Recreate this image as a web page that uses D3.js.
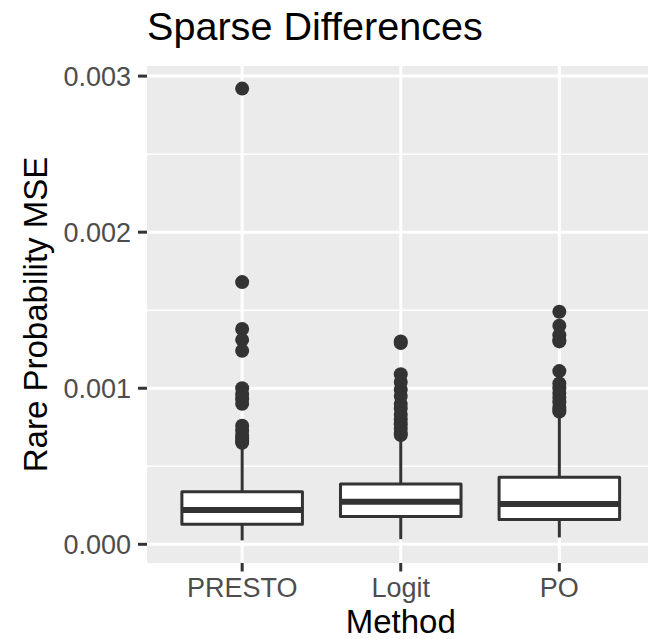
<!DOCTYPE html>
<html>
<head>
<meta charset="utf-8">
<script src="https://cdn.jsdelivr.net/npm/d3@7"></script>
<style>
  html, body { margin: 0; padding: 0; background: #ffffff; }
  svg { display: block; }
  text { font-family: "Liberation Sans", Arial, Helvetica, sans-serif; }
</style>
</head>
<body>
<svg id="chart" width="648" height="639"></svg>
<script>
// ---- data ----
const categories = ["PRESTO", "Logit", "PO"];
const lowerWhisker = [0.000025, 0.000033, 0.000044];
const q1 = [0.000128, 0.000178, 0.000159];
const median = [0.000220, 0.000272, 0.000259];
const q3 = [0.000336, 0.000387, 0.000430];
const upperWhisker = [0.00062, 0.00068, 0.00082];
const outliersPRESTO = [0.00292, 0.00168, 0.00138, 0.00131, 0.00124, 0.00100, 0.00096, 0.00093, 0.00090,
                        0.00076, 0.00073, 0.00070, 0.00068, 0.00066, 0.00065];
const outliersLogit = [0.00130, 0.00129, 0.00109, 0.00104, 0.00099, 0.00095, 0.00090, 0.00087, 0.00083,
                       0.00080, 0.00077, 0.00074, 0.00071, 0.00070];
const outliersPO = [0.00149, 0.00140, 0.00134, 0.00131, 0.00130, 0.00111, 0.00103, 0.00100, 0.00097,
                    0.00094, 0.00091, 0.00088, 0.00086, 0.00085];
const yTicks = [0, 0.001, 0.002, 0.003];
const yTickLabels = ["0.000", "0.001", "0.002", "0.003"];
const yMinorTicks = [0.0005, 0.0015, 0.0025];
const titleText = "Sparse Differences";
const xTitle = "Method";
const yTitle = "Rare Probability MSE";

const outliers = [outliersPRESTO, outliersLogit, outliersPO];
const stats = categories.map((c, i) => ({
  cat: c, lo: lowerWhisker[i], q1: q1[i], med: median[i], q3: q3[i], hi: upperWhisker[i], out: outliers[i]
}));

// ---- layout ----
const panel = { left: 147, right: 654.5, top: 66, bottom: 563 };
const svg = d3.select("#chart");

const allVals = [].concat(lowerWhisker, upperWhisker, outliersPRESTO, outliersLogit, outliersPO);
const vmin = d3.min(allVals), vmax = d3.max(allVals);
const pad = (vmax - vmin) * 0.05;

const x = d3.scalePoint().domain(categories).range([panel.left, panel.right]).padding(0.6);
const y = d3.scaleLinear().domain([vmin - pad, vmax + pad]).range([panel.bottom, panel.top]);
const boxHalf = x.step() * 0.38;

svg.append("rect").attr("width", 648).attr("height", 639).attr("fill", "#ffffff");

// panel background
svg.append("rect")
  .attr("x", panel.left).attr("y", panel.top)
  .attr("width", panel.right - panel.left).attr("height", panel.bottom - panel.top)
  .attr("fill", "#EBEBEB");

// grid
const grid = svg.append("g");
grid.selectAll(".minor").data(yMinorTicks).join("line")
  .attr("x1", panel.left).attr("x2", panel.right)
  .attr("y1", d => y(d)).attr("y2", d => y(d))
  .attr("stroke", "#ffffff").attr("stroke-width", 1.5);
grid.selectAll(".majorY").data(yTicks).join("line")
  .attr("x1", panel.left).attr("x2", panel.right)
  .attr("y1", d => y(d)).attr("y2", d => y(d))
  .attr("stroke", "#ffffff").attr("stroke-width", 3);
grid.selectAll(".majorX").data(categories).join("line")
  .attr("x1", d => x(d)).attr("x2", d => x(d))
  .attr("y1", panel.top).attr("y2", panel.bottom)
  .attr("stroke", "#ffffff").attr("stroke-width", 3);

// boxes
const dark = "#333333";
const g = svg.append("g");
const box = g.selectAll(".box").data(stats).join("g");
box.append("line")
  .attr("x1", d => x(d.cat)).attr("x2", d => x(d.cat))
  .attr("y1", d => y(d.q3)).attr("y2", d => y(d.hi))
  .attr("stroke", dark).attr("stroke-width", 3);
box.append("line")
  .attr("x1", d => x(d.cat)).attr("x2", d => x(d.cat))
  .attr("y1", d => y(d.q1)).attr("y2", d => y(d.lo))
  .attr("stroke", dark).attr("stroke-width", 3);
box.append("rect")
  .attr("x", d => x(d.cat) - boxHalf).attr("width", boxHalf * 2)
  .attr("y", d => y(d.q3)).attr("height", d => y(d.q1) - y(d.q3))
  .attr("fill", "#ffffff").attr("stroke", dark).attr("stroke-width", 3)
  .attr("stroke-linejoin", "round");
box.append("line")
  .attr("x1", d => x(d.cat) - boxHalf).attr("x2", d => x(d.cat) + boxHalf)
  .attr("y1", d => y(d.med)).attr("y2", d => y(d.med))
  .attr("stroke", dark).attr("stroke-width", 6);
box.selectAll("circle").data(d => d.out.map(v => ({cat: d.cat, v}))).join("circle")
  .attr("cx", d => x(d.cat)).attr("cy", d => y(d.v)).attr("r", 7)
  .attr("fill", dark);

// axes
const tickCol = "#333333", labCol = "#4D4D4D";
const yAxis = svg.append("g");
yAxis.selectAll("line").data(yTicks).join("line")
  .attr("x1", panel.left - 9).attr("x2", panel.left)
  .attr("y1", d => y(d)).attr("y2", d => y(d))
  .attr("stroke", tickCol).attr("stroke-width", 3);
yAxis.selectAll("text").data(yTicks).join("text")
  .attr("x", panel.left - 16).attr("y", d => y(d))
  .attr("dy", "0.36em").attr("text-anchor", "end")
  .attr("font-size", 27).attr("fill", labCol)
  .text((d, i) => yTickLabels[i]);

const xAxis = svg.append("g");
xAxis.selectAll("line").data(categories).join("line")
  .attr("x1", d => x(d)).attr("x2", d => x(d))
  .attr("y1", panel.bottom).attr("y2", panel.bottom + 8.5)
  .attr("stroke", tickCol).attr("stroke-width", 3);
xAxis.selectAll("text").data(categories).join("text")
  .attr("x", d => x(d)).attr("y", 597)
  .attr("text-anchor", "middle")
  .attr("font-size", 27).attr("fill", labCol)
  .text(d => d);

// titles
svg.append("text")
  .attr("x", (panel.left + panel.right) / 2).attr("y", 633)
  .attr("text-anchor", "middle").attr("font-size", 33).attr("fill", "#000")
  .text(xTitle);
svg.append("text")
  .attr("transform", `translate(47,${(panel.top + panel.bottom) / 2}) rotate(-90)`)
  .attr("text-anchor", "middle").attr("font-size", 33).attr("fill", "#000")
  .text(yTitle);
svg.append("text")
  .attr("x", panel.left).attr("y", 40)
  .attr("font-size", 39.6).attr("fill", "#000")
  .text(titleText);
</script>
</body>
</html>
